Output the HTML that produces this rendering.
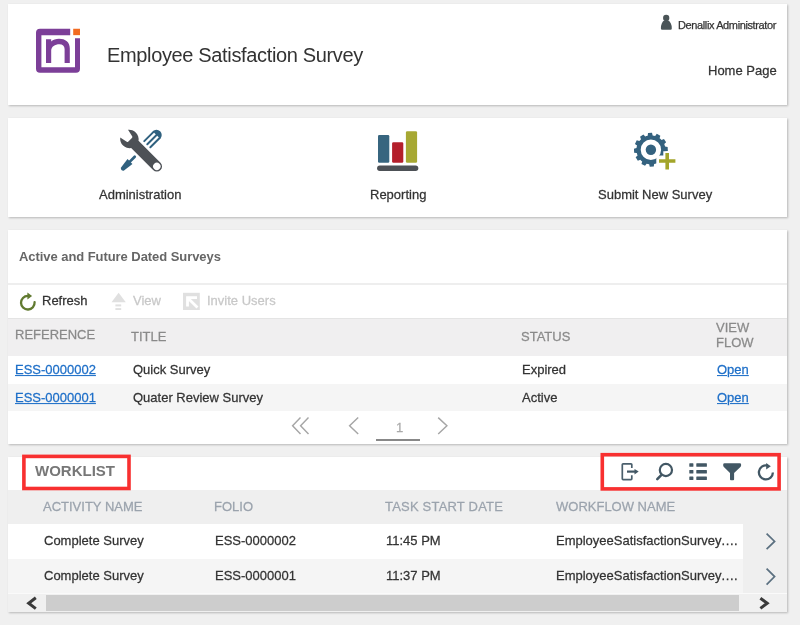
<!DOCTYPE html>
<html><head><meta charset="utf-8">
<style>
*{margin:0;padding:0;box-sizing:border-box}
html,body{width:800px;height:625px;overflow:hidden;background:#f0f0f0;font-family:"Liberation Sans",Arial,sans-serif;font-size:13px;line-height:15px;color:#333}
.card{position:absolute;left:8px;width:779px;background:#fff;box-shadow:1px 1px 2px rgba(0,0,0,.24)}
.a{position:absolute;white-space:nowrap;will-change:transform;-webkit-text-stroke:0.25px currentColor;transform:scaleY(1.045);transform-origin:0 12px}
.nt{transform:none}
.ns{-webkit-text-stroke:0}
.bg{position:absolute}
svg{position:absolute;overflow:visible}
.h{color:#8a8a8a}
.wh{color:#9ba3ad}
.lk{color:#1e6fc8;text-decoration:underline}
</style></head><body>

<!-- Header card -->
<div class="card" style="top:4px;height:101px"></div>
<svg style="left:36px;top:28px" width="45" height="45" viewBox="0 0 45 45">
  <path d="M34.2 0.75H4A4 4 0 0 0 0 4.75V40.8A4 4 0 0 0 4 44.8H40A4 4 0 0 0 44 40.8V10.3H39V39.2H5.4V7.25H34.2Z" fill="#7c3f98"/>
  <rect x="37.2" y="0.75" width="6.8" height="6.4" fill="#f26b21"/>
  <path d="M10 34.9V11.2H15.2V13.6C17 11.5 20 10.7 23 10.7C29.5 10.7 33.8 14 33.8 20.5V34.9H28.6V21C28.6 17.8 26.5 16.2 23.5 16.2C19 16.2 15.2 18.5 15.2 22.5V34.9Z" fill="#7c3f98"/>
</svg>
<div class="a ns nt" style="left:107px;top:44px;font-size:20px;line-height:23px;letter-spacing:-0.35px;color:#333">Employee Satisfaction Survey</div>
<svg style="left:660px;top:14px" width="12" height="16" viewBox="0 0 12 16">
  <circle cx="6.2" cy="3.9" r="3.15" fill="#4a5457"/>
  <path d="M4.4 6.3Q6.2 7.6 8 6.3Q11.8 8.6 11.8 14.4Q11.8 15.7 10.5 15.7H2.2Q0.9 15.7 0.9 14.4Q0.9 8.6 4.4 6.3Z" fill="#4a5457"/>
</svg>
<div class="a nt" style="left:678px;top:19px;font-size:11px;line-height:13px;letter-spacing:-0.38px;color:#333">Denallix Administrator</div>
<div class="a" style="left:708px;top:63px">Home Page</div>

<!-- Nav card -->
<div class="card" style="top:118px;height:99px"></div>
<div class="a" style="left:99px;top:187px">Administration</div>
<div class="a" style="left:370px;top:187px">Reporting</div>
<div class="a" style="left:598px;top:187px">Submit New Survey</div>

<!-- Surveys card -->
<div class="card" style="top:230px;height:214px"></div>
<div class="a ns" style="left:19px;top:249px;font-weight:bold;color:#666;letter-spacing:-0.06px">Active and Future Dated Surveys</div>
<div class="bg" style="left:8px;width:779px;top:283px;height:2px;background:#eeeeee"></div>
<div class="a" style="left:42px;top:293px">Refresh</div>
<div class="a" style="left:133px;top:293px;color:#c8c8c8">View</div>
<div class="a" style="left:207px;top:293px;color:#c8c8c8">Invite Users</div>
<div class="bg" style="left:8px;width:779px;top:318px;height:38px;background:#f0eff0;border-top:1px solid #e4e4e4"></div>
<div class="bg" style="left:8px;width:779px;top:384px;height:27px;background:#f5f5f5"></div>
<div class="a h" style="left:15px;top:327px">REFERENCE</div>
<div class="a h" style="left:131px;top:329px">TITLE</div>
<div class="a h" style="left:521px;top:329px">STATUS</div>
<div class="a h" style="left:716px;top:321px;line-height:14.5px;transform-origin:0 19px">VIEW<br>FLOW</div>
<div class="a lk" style="left:15px;top:362px">ESS-0000002</div>
<div class="a" style="left:133px;top:362px">Quick Survey</div>
<div class="a" style="left:522px;top:362px">Expired</div>
<div class="a lk" style="left:717px;top:362px">Open</div>
<div class="a lk" style="left:15px;top:390px">ESS-0000001</div>
<div class="a" style="left:133px;top:390px">Quater Review Survey</div>
<div class="a" style="left:522px;top:390px">Active</div>
<div class="a lk" style="left:717px;top:390px">Open</div>
<div class="a" style="left:396px;top:420px;color:#aaa">1</div>
<div class="bg" style="left:376px;width:44px;top:439px;height:2px;background:#888"></div>

<!-- Worklist card -->
<div class="card" style="top:457px;height:155px"></div>
<div class="bg" style="left:8px;width:779px;top:490px;height:34px;background:#efefef"></div>
<div class="bg" style="left:8px;width:735px;top:559px;height:34px;background:#f5f5f5"></div>
<div class="bg" style="left:743px;width:44px;top:524px;height:69px;background:#efefef"></div><div class="bg" style="left:8px;width:779px;top:593px;height:1px;background:#fafafa"></div>
<div class="a ns nt" style="left:35px;top:462px;font-size:15px;line-height:17px;font-weight:bold;color:#777">WORKLIST</div>
<div class="a wh" style="left:43px;top:499px">ACTIVITY NAME</div>
<div class="a wh" style="left:214px;top:499px">FOLIO</div>
<div class="a wh" style="left:384.6px;top:499px;letter-spacing:0.2px">TASK START DATE</div>
<div class="a wh" style="left:556px;top:499px">WORKFLOW NAME</div>
<div class="a" style="left:44px;top:533px">Complete Survey</div>
<div class="a" style="left:215px;top:533px">ESS-0000002</div>
<div class="a" style="left:386px;top:533px">11:45 PM</div>
<div class="a" style="left:556px;top:533px">EmployeeSatisfactionSurvey<span style="letter-spacing:0.6px">....</span></div>
<div class="a" style="left:44px;top:568px">Complete Survey</div>
<div class="a" style="left:215px;top:568px">ESS-0000001</div>
<div class="a" style="left:386px;top:568px">11:37 PM</div>
<div class="a" style="left:556px;top:568px">EmployeeSatisfactionSurvey<span style="letter-spacing:0.6px">....</span></div>
<div class="bg" style="left:8px;width:779px;top:594px;height:18px;background:#f0f0f0"></div>
<div class="bg" style="left:46px;width:693px;top:595px;height:16px;background:#cdcdcd"></div>


<svg style="left:0;top:0" width="800" height="625" viewBox="0 0 800 625">
<!-- Admin: screwdriver (behind) -->
<g transform="translate(145.75 145.75) rotate(-45)" fill="#30617f" stroke="none">
  <path d="M15.1 -5.3A5.3 5.3 0 0 1 15.1 5.3Z"/>
  <g stroke="#30617f" stroke-width="2" stroke-linecap="round">
    <line x1="2.2" y1="-4.3" x2="15.3" y2="-4.3"/>
    <line x1="2.2" y1="0" x2="15.3" y2="0"/>
    <line x1="2.2" y1="4.3" x2="15.3" y2="4.3"/>
  </g>
  <line x1="-15.6" y1="0" x2="-23.5" y2="0" stroke="#30617f" stroke-width="2.7" stroke-linecap="round"/>
  <path d="M-22.3 -3.5L-22.3 3.5L-33.2 2Q-35.4 0 -33.2 -2Z"/>
</g>
<!-- Admin: wrench -->
<g transform="translate(129.6 139.2) rotate(45)" fill="#4d5156">
  <path d="M-7.75 -5.5A9.5 9.5 0 0 1 7.4 -5.2H38.5A5.2 5.2 0 0 1 38.5 5.2H7.4A9.5 9.5 0 0 1 -7.75 5.5L-0.6 4Q0.8 3.9 0.8 2.5V-2.5Q0.8 -3.9 -0.6 -4Z"/>
  <circle cx="38.5" cy="0" r="3.7" fill="#fff"/>
</g>
<!-- Reporting -->
<rect x="378" y="134.9" width="11.3" height="27.8" rx="1.3" fill="#37657f"/>
<rect x="392.1" y="142.3" width="11.2" height="20.4" rx="1.3" fill="#b41f2b"/>
<rect x="405.9" y="131.3" width="11.2" height="31.4" rx="1.3" fill="#a7a833"/>
<rect x="377.1" y="165.6" width="41.2" height="5.3" rx="2.65" fill="#4d5156"/>
<!-- Gear -->
<path fill="#34627f" fill-rule="evenodd" d="M665.04 146.57L667.65 146.92L667.86 150.91L665.30 151.54A14.5 14.5 0 0 1 664.76 154.07L666.85 155.69L665.04 159.24L662.50 158.50A14.5 14.5 0 0 1 660.77 160.43L661.77 162.87L658.42 165.05L656.59 163.14A14.5 14.5 0 0 1 654.13 163.94L653.78 166.55L649.79 166.76L649.16 164.20A14.5 14.5 0 0 1 646.63 163.66L645.01 165.75L641.46 163.94L642.20 161.40A14.5 14.5 0 0 1 640.27 159.67L637.83 160.67L635.65 157.32L637.56 155.49A14.5 14.5 0 0 1 636.76 153.03L634.15 152.68L633.94 148.69L636.50 148.06A14.5 14.5 0 0 1 637.04 145.53L634.95 143.91L636.76 140.36L639.30 141.10A14.5 14.5 0 0 1 641.03 139.17L640.03 136.73L643.38 134.55L645.21 136.46A14.5 14.5 0 0 1 647.67 135.66L648.02 133.05L652.01 132.84L652.64 135.40A14.5 14.5 0 0 1 655.17 135.94L656.79 133.85L660.34 135.66L659.60 138.20A14.5 14.5 0 0 1 661.53 139.93L663.97 138.93L666.15 142.28L664.24 144.11A14.5 14.5 0 0 1 665.04 146.57ZM661.10 149.80A10.2 10.2 0 1 0 640.70 149.80A10.2 10.2 0 1 0 661.10 149.80Z"/>
<circle cx="650.9" cy="149.8" r="5.2" fill="#34627f"/>
<path d="M656.3 155.6H680V175H656.3Z M663.3 151.3H671.2V156H663.3Z" fill="#fff"/>
<path d="M659 161H675.4M667.2 153.1V169.4" stroke="#a3a52a" stroke-width="3.6"/>
<!-- Refresh (green) -->
<path d="M34.6 302.2A6.8 6.8 0 1 1 27.8 295.9" fill="none" stroke="#617a30" stroke-width="2.3" stroke-linecap="round"/>
<path d="M27.4 292.6L32.1 296L27.4 299.4Z" fill="#617a30"/>
<!-- View (disabled) -->
<path d="M118.6 292.8L125.8 302.3H111.5Z" fill="#e0e0e0"/>
<rect x="115.4" y="304.4" width="5.8" height="2" fill="#e0e0e0"/>
<rect x="115.4" y="308.1" width="5.8" height="1.9" fill="#e0e0e0"/>
<!-- Invite (disabled) -->
<rect x="183" y="292.8" width="16.8" height="17.2" fill="#e0e0e0"/>
<path d="M187.5 306.6V297.7H197M187.8 298L197.5 307.5" fill="none" stroke="#fff" stroke-width="2.8"/>
<!-- Pagination -->
<g fill="none" stroke="#a6a6a6" stroke-width="1.45">
  <path d="M300.5 417.6L292.6 425.8L300.5 434.1M308.5 417.6L300.6 425.8L308.5 434.1"/>
  <path d="M358.2 417.6L349.6 425.8L358.2 434.1"/>
  <path d="M438.2 417.6L446.9 425.8L438.2 434.1"/>
</g>
<!-- Worklist icons -->
<g fill="none" stroke="#425764" stroke-width="1.9">
  <path d="M631.8 468.1V464.6Q631.8 463.8 631 463.8H623.1Q622.3 463.8 622.3 464.6V478.8Q622.3 479.6 623.1 479.6H631Q631.8 479.6 631.8 478.8V475.3" stroke-width="1.7" stroke="#4a5f6c"/>
  <path d="M627 471.6H635.5" stroke-width="2.2"/>
  <circle cx="665.9" cy="470" r="6.1" stroke-width="2.2"/>
  <path d="M657.3 479.1L661.2 475.2" stroke-width="2.6" stroke-linecap="round"/>
  <path d="M767.3 465.5A7 7 0 1 0 772.9 472.5" stroke-width="2.3"/>
</g>
<path d="M634.5 468.9L638.7 471.6L634.5 474.4Z" fill="#425764"/>
<path d="M766.2 462.9L770.8 466.2L766.2 469.4Z" fill="#425764"/>
<g fill="#425764">
  <rect x="689.3" y="463.3" width="4.1" height="3.5" rx="0.5"/>
  <rect x="689.3" y="469.9" width="4.1" height="3.5" rx="0.5"/>
  <rect x="689.3" y="476.6" width="4.1" height="3.5" rx="0.5"/>
  <rect x="696.3" y="463.3" width="10.6" height="3.5" rx="0.5"/>
  <rect x="696.3" y="469.9" width="10.6" height="3.5" rx="0.5"/>
  <rect x="696.3" y="476.6" width="10.6" height="3.5" rx="0.5"/>
  <path d="M724.6 463.3H739.8Q741.1 463.3 741.1 464.6V465.4Q741.1 466.2 740.4 466.9L734.1 473V479.3Q734.1 480.2 733.2 480.2H730.9Q730 480.2 730 479.3V473L723.9 466.9Q723.2 466.2 723.2 465.4V464.6Q723.2 463.3 724.6 463.3Z"/>
</g>
<!-- Row chevrons -->
<g fill="none" stroke="#5b7080" stroke-width="1.7">
  <path d="M766.6 533.6L774.6 541.4L766.6 549.2"/>
  <path d="M766.6 568.6L774.6 576.6L766.6 584.6"/>
</g>
<!-- scroll arrows -->
<g fill="none" stroke="#3a3a3a" stroke-width="3">
  <path d="M35.8 597.8L28.7 603.2L35.8 608.6"/>
  <path d="M760.4 598.2L767.2 603.3L760.4 608.4"/>
</g>
</svg>

<!-- red highlight boxes -->
<svg style="left:0;top:0" width="800" height="625"><g fill="none" stroke="#f83030" stroke-width="3.6">
<rect x="23.9" y="456.4" width="105.1" height="32.1"/>
<rect x="602.3" y="454.7" width="176.8" height="34.2"/></g></svg>


</body></html>
